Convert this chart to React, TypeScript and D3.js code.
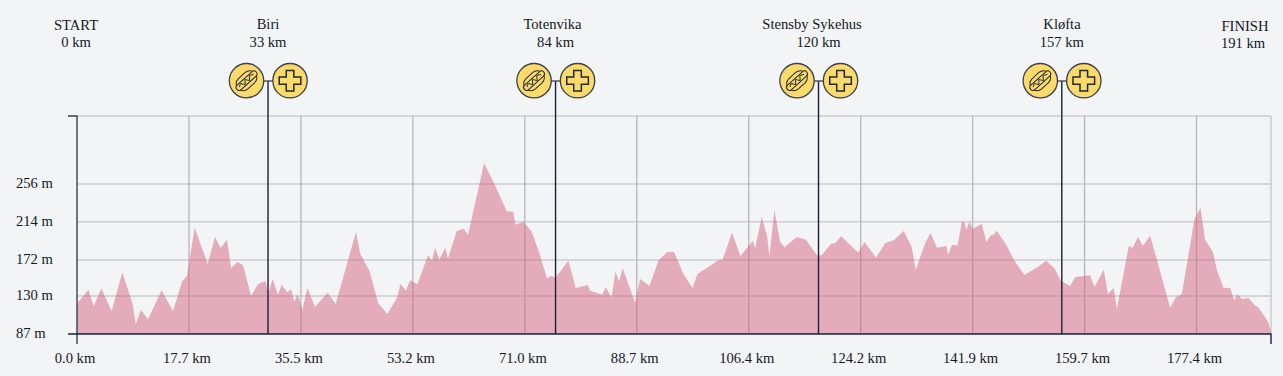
import React from "react";
import * as d3 from "d3";

const distanceKm = [0,1.8,2.64,3.86,5.49,7.18,8.82,9.3,10.14,11.25,13.42,15.21,16.64,17.43,17.91,18.65,20.71,21.87,22.77,23.77,24.41,25.41,26.31,27.58,28.68,29.85,30.32,31.01,31.85,32.44,33.33,33.91,34.44,34.97,35.71,36.5,37.72,38.51,39.72,40.99,44.22,44.85,46.33,47.75,49.18,50.76,51.24,52.14,52.77,53.94,55.63,56.26,56.74,57.42,58.37,58.79,60.17,61.28,61.97,64.5,66.09,68.09,69.15,69.47,70.73,72,73.11,74.48,75.17,75.8,77.86,79.03,80.93,81.3,83.2,83.78,84.73,85.31,85.89,86.47,88.43,89.22,90.7,92.13,93.45,94.61,96.09,97.52,98.32,101.65,102.28,103.8,105.12,107.08,107.45,108.5,109.35,109.72,110.51,111.41,112.1,114.05,115.48,117.33,118.01,119.49,120.13,121.08,123.82,124.77,126.62,128.05,129.48,131.01,132.28,132.91,134.39,135.24,136.29,137.77,138.04,138.62,139.52,139.94,140.2,140.62,140.89,141.42,141.89,143.37,144.11,144.8,145.22,145.74,147.17,148.65,150.13,152.19,153.57,154.89,155.89,157.37,158.17,160.54,161.23,162.71,163.34,164.29,164.77,166.67,167.3,168.15,168.88,170.05,173.22,174.12,175.07,177.07,178.03,178.77,179.98,180.62,181.67,182.73,183.36,183.89,184.58,185.63,186.59,187.22,188.28,188.8,189.2];
const elevationM = [121.5,136.6,118.5,138.4,112.9,156.5,120.8,98.3,114,103.5,136.2,112.5,146,152.7,174.1,206.8,165.9,196.3,183.9,193.3,161,168.1,164.4,129.8,143,147.1,132.8,149,131.3,142.6,133.9,137.3,123.4,131.7,114,138.8,117.4,124,133.6,120.8,202.3,177.9,158.3,121.5,109.5,128.3,143.3,135.8,147.5,143,175.6,169.6,183.9,171.1,183.9,172.2,203,205.7,198.5,279.3,256.7,225.2,224.8,210.2,213.5,202.7,181.6,149.7,152.7,150.1,169.6,138.8,142.2,135.8,131.3,139.6,127.9,157.2,146,161,122.3,149,141.1,169.6,179,179.4,154.6,138.8,154.6,170,170.4,201.2,174.9,192.1,183.5,218.8,197.4,174.9,226.3,191,184.6,196.3,193.6,175.2,176,188.8,189.1,197,178.6,190.6,173,189.1,192.9,203,184.6,159.1,189.1,200.8,184.3,186.1,176,187.3,186.9,202.3,213.5,213.2,204.2,213.5,205.3,210.9,190.6,198.2,198.5,203.4,188.4,168.5,153.5,162.1,169.6,161,147.1,141.1,151.2,153.1,139.9,159.5,132.4,138.8,114.8,186.1,184.3,196.7,186.1,197.8,116.7,128.3,131.7,216.2,228.9,192.9,179.8,159.1,139.2,138.8,124.9,131.7,126.4,127.6,119.7,116.7,105.8,99.8,88.5];

const xTickKm = [0,17.74,35.48,53.22,70.96,88.7,106.44,124.18,141.92,159.66,177.4];
const xTickLabels = ["0.0 km","17.7 km","35.5 km","53.2 km","71.0 km","88.7 km","106.4 km","124.2 km","141.9 km","159.7 km","177.4 km"];
const yTickM = [87,129.8,170.4,213.5,256];
const yTickLabels = ["87 m","130 m","172 m","214 m","256 m"];

const stationNames = ["Biri","Totenvika","Stensby Sykehus","Kløfta"];
const stationLabelsKm = ["33 km","84 km","120 km","157 km"];
const stationAxisKm = [30.27,75.83,117.5,156.05];
const stationLabelX = [268,552.5,812,1062];
const endNames = ["START","FINISH"];
const endKm = ["0 km","191 km"];
const endLabelX = [76,1245];
const endKmX = [76,1243];

const x = d3.scaleLinear().domain([0,189.2]).range([77,1271]);
const y = d3.scaleLinear().domain([87,332.6]).range([334,116]);

const INK = "#1f2937";
const TEXT = "#111827";
const FS = 14.6;
const YELLOW = "#fbda6c";
const FONT = "'Liberation Serif', serif";

function Hotdog({cx,cy}:{cx:number;cy:number}) {
  return (
    <g transform={`translate(${cx},${cy}) rotate(-42)`} fill="none" stroke={INK} strokeWidth={1}>
      <circle r={17.2} fill={YELLOW} stroke="#374151" strokeWidth={1.3}/>
      <rect x={-11.5} y={-7} width={23} height={14} rx={7}/>
      <rect x={-13} y={-3} width={26} height={6} rx={3} fill={YELLOW}/>
      <path d="M-9.5 0 L-6.5 -2 L-3.5 2 L-0.5 -2 L2.5 2 L5.5 -2 L9.5 0" strokeWidth={0.9}/>
    </g>
  );
}

function Plus({cx,cy}:{cx:number;cy:number}) {
  return (
    <g transform={`translate(${cx},${cy})`}>
      <circle r={17.2} fill={YELLOW} stroke="#374151" strokeWidth={1.3}/>
      <path d="M-3.8 -10.2 H3.8 V-3.6 H10.8 V3.6 H3.8 V10.2 H-3.8 V3.6 H-10.8 V-3.6 H-3.8 Z" fill="none" stroke={INK} strokeWidth={1.5}/>
    </g>
  );
}

export default function App() {
  const points = distanceKm.map((d,i)=>[d,elevationM[i]] as [number,number]);
  const area = d3.area<[number,number]>().x(d=>x(d[0])).y0(y(87)).y1(d=>y(d[1]))(points) ?? "";
  return (
    <svg width={1283} height={376} style={{position:"absolute",left:0,top:0,background:"#f3f4f6",fontFamily:FONT}}>
      <rect width={1283} height={376} fill="#f3f4f6"/>
      {yTickM.slice(1).map(t=><line key={t} x1={x(0)} x2={x(189.2)} y1={y(t)} y2={y(t)} stroke="#cbcdd2" strokeWidth={1.6}/>)}
      <line x1={x(0)} x2={x(189.2)} y1={y(332.6)} y2={y(332.6)} stroke="#cbcdd2" strokeWidth={1.6}/>
      {xTickKm.slice(1).map(t=><line key={t} x1={x(t)} x2={x(t)} y1={116} y2={334} stroke="#b4b6bb" strokeWidth={1.3}/>)}
      <line x1={x(189.2)} x2={x(189.2)} y1={116} y2={334} stroke="#c4c6cb" strokeWidth={1.3}/>
      <path d={area} fill="rgb(213,98,126)" fillOpacity={0.5}/>
      <path d={`M68 ${y(332.6)}H${x(0)}V344`} fill="none" stroke="#374151" strokeWidth={1.4}/>
      <path d={`M68 ${y(87)}H${x(189.2)}V344`} fill="none" stroke="#1a2038" strokeWidth={1.4}/>
      {xTickKm.map((t,i)=><text key={t} x={x(t)-2} y={363} textAnchor="middle" fontSize={FS} fill={TEXT}>{xTickLabels[i]}</text>)}
      {yTickM.map((t,i)=><text key={t} x={16} y={y(t)+4.2} fontSize={FS} fill={TEXT}>{yTickLabels[i]}</text>)}
      {endNames.map((n,i)=>(
        <text key={n} textAnchor="middle" fontSize={FS} fill={TEXT}>
          <tspan x={endLabelX[i]} y={i===0?30:31}>{n}</tspan>
          <tspan x={endKmX[i]} y={i===0?47:48}>{endKm[i]}</tspan>
        </text>
      ))}
      {stationNames.map((n,i)=>{
        const sx = x(stationAxisKm[i]);
        return (
          <g key={n}>
            <text textAnchor="middle" fontSize={FS} fill={TEXT}>
              <tspan x={stationLabelX[i]} y={29}>{n}</tspan>
              <tspan x={sx} y={47}>{stationLabelsKm[i]}</tspan>
            </text>
            <line x1={sx} x2={sx} y1={81} y2={334} stroke="#1a2038" strokeWidth={1.4}/>
            <line x1={sx-5} x2={sx+5} y1={81} y2={81} stroke="#374151" strokeWidth={1.3}/>
            <Hotdog cx={sx-21.5} cy={80.7}/>
            <Plus cx={sx+22} cy={80.7}/>
          </g>
        );
      })}
    </svg>
  );
}
